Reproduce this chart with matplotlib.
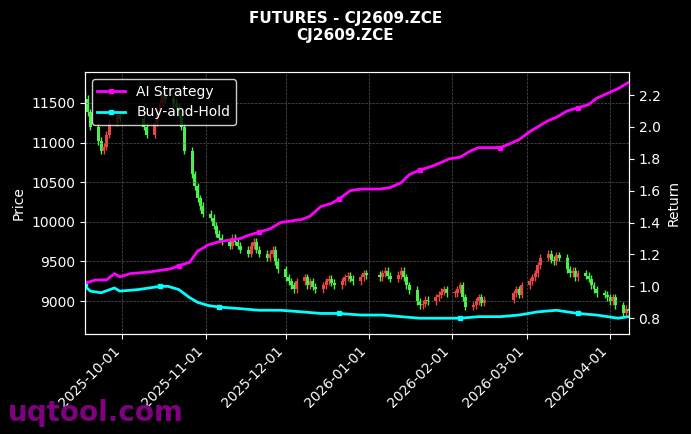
import matplotlib
matplotlib.use("Agg")
import matplotlib.pyplot as plt
import matplotlib.dates as mdates
import pandas as pd
import numpy as np

# trading days by month
sep_days = pd.bdate_range("2025-09-17", "2025-09-30")
oct_days = pd.bdate_range("2025-10-09", "2025-10-31")
nov_days = pd.bdate_range("2025-11-03", "2025-11-28")
dec_days = pd.bdate_range("2025-12-01", "2025-12-31")
jan_days = pd.bdate_range("2026-01-05", "2026-01-30")
feb_days = pd.bdate_range("2026-02-02", "2026-02-13").append(pd.bdate_range("2026-02-24", "2026-02-27"))
mar_days = pd.bdate_range("2026-03-02", "2026-03-31")
apr_days = pd.bdate_range("2026-04-01", "2026-04-08")

sep_close = [11550, 11380, 11200, 11020, 10900, 10950, 11100, 11250, 11350, 11300]
oct_close = [11200, 11100, 11250, 11400, 11500, 11600, 11550, 11500, 11450, 11350, 11200,
             10900, 10600, 10450, 10300, 10200, 10100]
nov_close = [10050, 9950, 9850, 9800, 9750, 9700, 9800, 9750, 9700, 9650, 9600, 9700, 9750,
             9650, 9600, 9550, 9600, 9650, 9500, 9400]
dec_close = [9300, 9250, 9200, 9150, 9250, 9300, 9200, 9250, 9180, 9150, 9200, 9250, 9280,
             9230, 9200, 9250, 9300, 9320, 9280, 9250, 9300, 9350, 9330]
jan_close = [9300, 9350, 9380, 9320, 9280, 9330, 9380, 9300, 9200, 9140, 9000, 8950, 8970,
             9020, 9000, 9050, 9080, 9120, 9150, 9100]
feb_close = [9100, 9150, 9200, 9050, 8930, 8950, 9000, 9050, 8980, 9020, 9100, 9150, 9080, 9200]
mar_close = [9250, 9300, 9350, 9450, 9550, 9600, 9520, 9500, 9580, 9550, 9400, 9350, 9380,
             9300, 9350, 9320, 9280, 9200, 9150, 9100, 9080, 9050]
apr_close = [9000, 9050, 8950, 8850, 8900, 8870]

ai_dates = ["2025-09-17", "2025-09-21", "2025-09-25", "2025-09-28", "2025-09-30", "2025-10-04",
            "2025-10-11", "2025-10-19", "2025-10-22", "2025-10-26", "2025-10-29", "2025-11-02",
            "2025-11-06", "2025-11-10", "2025-11-14", "2025-11-17", "2025-11-21", "2025-11-25",
            "2025-11-29", "2025-12-03", "2025-12-07", "2025-12-10", "2025-12-14", "2025-12-18",
            "2025-12-21", "2025-12-25", "2025-12-29", "2026-01-02", "2026-01-05", "2026-01-09",
            "2026-01-13", "2026-01-16", "2026-01-20", "2026-01-24", "2026-01-27", "2026-01-31",
            "2026-02-04", "2026-02-08", "2026-02-11", "2026-02-15", "2026-02-19", "2026-02-22",
            "2026-02-26", "2026-03-02", "2026-03-05", "2026-03-09", "2026-03-12", "2026-03-16",
            "2026-03-20", "2026-03-24", "2026-03-27", "2026-03-31", "2026-04-04", "2026-04-08"]
ai_ret = [1.02, 1.04, 1.04, 1.08, 1.06, 1.08, 1.09, 1.11, 1.13, 1.15, 1.22, 1.26, 1.28, 1.29,
          1.30, 1.32, 1.34, 1.36, 1.40, 1.41, 1.42, 1.44, 1.50, 1.52, 1.55, 1.60, 1.61, 1.61,
          1.61, 1.62, 1.65, 1.70, 1.73, 1.75, 1.77, 1.80, 1.81, 1.85, 1.87, 1.87, 1.87, 1.89,
          1.92, 1.97, 2.00, 2.04, 2.06, 2.10, 2.12, 2.14, 2.18, 2.21, 2.24, 2.28]

bh_dates = ["2025-09-17", "2025-09-19", "2025-09-23", "2025-09-28", "2025-09-30", "2025-10-07",
            "2025-10-15", "2025-10-18", "2025-10-22", "2025-10-26", "2025-10-29", "2025-11-02",
            "2025-11-06", "2025-11-14", "2025-11-21", "2025-11-29", "2025-12-07", "2025-12-14",
            "2025-12-21", "2025-12-29", "2026-01-06", "2026-01-13", "2026-01-20", "2026-01-28",
            "2026-02-04", "2026-02-11", "2026-02-19", "2026-02-26", "2026-03-05", "2026-03-12",
            "2026-03-20", "2026-03-27", "2026-04-04", "2026-04-08"]
bh_ret = [1.00, 0.97, 0.96, 0.99, 0.97, 0.98, 1.00, 1.00, 0.98, 0.93, 0.90, 0.88, 0.87, 0.86,
          0.85, 0.85, 0.84, 0.83, 0.83, 0.82, 0.82, 0.81, 0.80, 0.80, 0.80, 0.81, 0.81, 0.82,
          0.84, 0.85, 0.83, 0.82, 0.80, 0.81]

dates, closes = [], []
for d, c in [(sep_days, sep_close), (oct_days, oct_close), (nov_days, nov_close),
             (dec_days, dec_close), (jan_days, jan_close), (feb_days, feb_close),
             (mar_days, mar_close), (apr_days, apr_close)]:
    for a, b in zip(d, c):
        dates.append(a); closes.append(b)
opens = [closes[0] + 50] + closes[:-1]

fig = plt.figure(figsize=(6.91, 4.34), dpi=100, facecolor="black")
ax = fig.add_axes([0.123, 0.230, 0.787, 0.604], facecolor="black")
up_c, dn_c = "#e84545", "#4cf04c"
x = mdates.date2num(dates)
for xi, o, c in zip(x, opens, closes):
    col = up_c if c >= o else dn_c
    hi, lo = max(o, c) + 45, min(o, c) - 45
    ax.vlines(xi, lo, hi, color=col, linewidth=1.0)
    ax.bar(xi, max(abs(c - o), 15), bottom=min(o, c), width=1.1, color=col, linewidth=0)

ax.set_ylim(8583, 11890)
ax.set_xlim(mdates.date2num(pd.Timestamp("2025-09-17")), mdates.date2num(pd.Timestamp("2026-04-08")))
ax.set_ylabel("Price", color="white")
ax.grid(True, color="#555555", linestyle="--", linewidth=0.5)
ax.xaxis.set_major_locator(mdates.MonthLocator())
ax.xaxis.set_major_formatter(mdates.DateFormatter("%Y-%m-%d"))
plt.setp(ax.get_xticklabels(), rotation=45, ha="right")
ax.tick_params(colors="white")
for s in ax.spines.values():
    s.set_color("white")

ax2 = ax.twinx()
ax2.plot(pd.to_datetime(ai_dates), ai_ret, color="#ff00ff", lw=2, marker="s", ms=3,
         markevery=8, label="AI Strategy")
ax2.plot(pd.to_datetime(bh_dates), bh_ret, color="#00ffff", lw=2, marker="s", ms=3,
         markevery=6, label="Buy-and-Hold")
ax2.set_ylim(0.70, 2.344)
ax2.set_ylabel("Return", color="white")
ax2.tick_params(colors="white")
for s in ax2.spines.values():
    s.set_color("white")
leg = ax2.legend(loc="upper left", facecolor="black", edgecolor="white", labelcolor="white")

fig.suptitle("FUTURES - CJ2609.ZCE\nCJ2609.ZCE", color="white", fontweight="bold", fontsize=11, y=0.975)
fig.text(0.012, 0.03, "uqtool.com", color="#800080", fontsize=20, fontweight="bold")
fig.savefig("out.png", dpi=100, facecolor="black")
